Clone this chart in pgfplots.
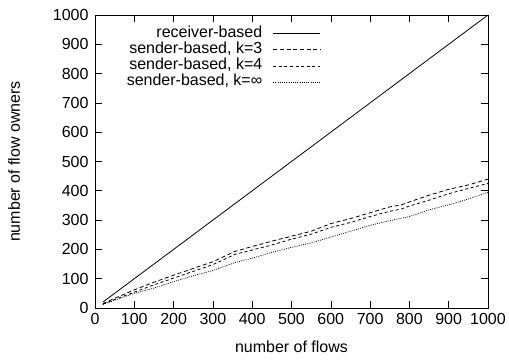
\documentclass[border=0pt]{standalone}
\usepackage{pgfplots}
\pgfplotsset{compat=1.18}
\usepackage{fontspec}
\setmainfont{Liberation Sans}
\usetikzlibrary{calc}
\begin{document}
\begin{tikzpicture}
\begin{axis}[
  scale only axis, width=393pt, height=293pt,
  xmin=0, xmax=1000, ymin=0, ymax=1000,
  xtick={0,100,...,1000}, ytick={0,100,...,1000},
  tick align=inside, major tick length=7pt,
  tick style={black, line width=0.6pt},
  axis line style={line width=0.8pt},
  /pgf/number format/assume math mode=true,
  /pgf/number format/1000 sep={},
  tick label style={font=\fontsize{16}{18}\selectfont},
  label style={font=\fontsize{16}{18}\selectfont},
  xlabel={number of flows}, ylabel={number of flow owners},
  xticklabel style={yshift=-2pt},
  yticklabel style={xshift=-3pt},
  xlabel style={yshift=-9pt},
  ylabel style={yshift=26pt},
  legend style={draw=none, fill=none, inner sep=0pt, outer sep=0pt,
    at={(axis cs:574,965)}, anchor=north east,
    legend cell align=right, row sep=0pt, column sep=10pt,
    nodes={inner sep=0.5pt, text height=11.3pt, text depth=4pt},
    font=\fontsize{16}{18}\selectfont},
  legend plot pos=right,
  legend image code/.code={\draw[#1] (0pt,0pt) -- (47pt,0pt);},
]
\addplot[black, line width=0.8pt] coordinates {(20,20) (1000,1000)};
\addlegendentry{receiver-based}
\addplot[black, line width=0.8pt, dash pattern=on 4pt off 2.7pt] coordinates {
(20,15) (50,33) (100,62) (150,88) (200,112) (250,135) (300,158) (356,193) (400,210) (450,228) (500,245) (550,262) (600,288) (650,305) (700,325) (750,345) (780,352) (800,362) (850,385) (900,405) (950,420) (1000,440)};
\addlegendentry{sender-based, k=3}
\addplot[black, line width=0.8pt, dash pattern=on 3pt off 2.6pt] coordinates {
(20,13) (50,29) (100,54) (150,79) (200,102) (250,125) (300,148) (356,183) (400,198) (450,215) (500,235) (550,252) (600,275) (650,292) (700,312) (750,330) (780,338) (800,348) (850,368) (900,390) (950,408) (1000,425)};
\addlegendentry{sender-based, k=4}
\addplot[black, line width=0.7pt, dash pattern=on 1pt off 1.2pt] coordinates {
(20,12) (50,26) (100,50) (150,68) (200,90) (250,110) (300,128) (356,155) (400,170) (450,190) (500,207) (550,222) (600,242) (650,262) (700,282) (750,298) (800,312) (850,335) (900,352) (950,372) (1000,395)};
\addlegendentry{sender-based, k=∞}
\end{axis}
\pgfresetboundingbox
\path ($(current axis.south west)+(-95pt,-52pt)$) rectangle ($(current axis.north east)+(21pt,15pt)$);
\end{tikzpicture}
\end{document}
